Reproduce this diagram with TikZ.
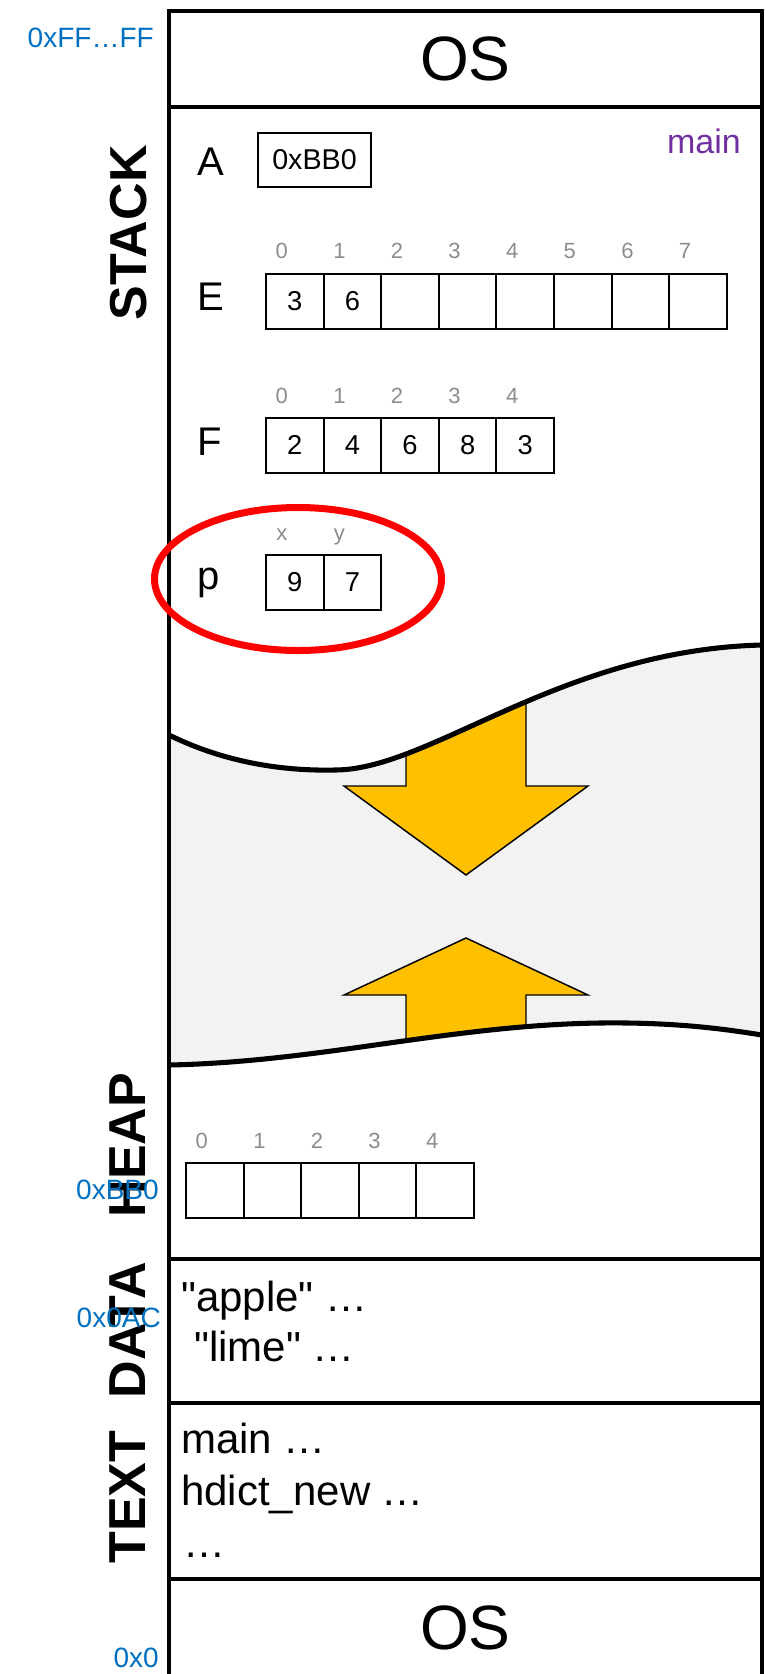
\documentclass[tikz,border=0pt]{standalone}
\usepackage{fontspec}
\setmainfont{Liberation Sans}[Ligatures=TeXOff]
\usetikzlibrary{positioning}
\definecolor{addrblue}{HTML}{0070C0}
\definecolor{framepurple}{HTML}{7030A0}
\definecolor{growyellow}{HTML}{FFC000}
\definecolor{gapgray}{HTML}{F2F2F2}
\definecolor{indexgray}{HTML}{8C8C8C}
\newcommand{\pxfont}[1]{\fontsize{#1}{#1}\selectfont}
\newcommand{\stackwave}{(169,735) .. controls (230,765) and (290,771) .. (335,770)
  .. controls (430,770) and (560,650) .. (762,645)}
\newcommand{\heapwave}{(762,1035) .. controls (730,1030) and (680,1022) .. (600,1023)
  .. controls (450,1025) and (320,1062) .. (169,1065)}
\tikzset{
  mem line/.style={line width=3.5pt},
  seg name/.style={font=\bfseries\pxfont{39},rotate=90,inner sep=0pt},
  os label/.style={font=\pxfont{47},inner sep=0pt},
  addr label/.style={font=\pxfont{21},text=addrblue,anchor=east,inner sep=0pt},
  var label/.style={font=\pxfont{30},anchor=base west,inner sep=0pt},
  cell box/.style={draw,line width=1.5pt,minimum width=43.2pt,
    minimum height=41.25pt,inner sep=0pt,font=\pxfont{20.5}},
  index label/.style={font=\pxfont{16.5},text=indexgray,anchor=base,inner sep=0pt},
  code line/.style={font=\pxfont{31.5},anchor=base west,inner sep=0pt},
  grow arrow/.style={fill=growyellow,draw=black,line width=1.1pt},
}

\begin{document}
\begin{tikzpicture}[x=0.75pt,y=-0.75pt]
  \useasboundingbox (0,0) rectangle (764,1674);

  % Free space between the stack and the heap, both growing into it.
  \fill[gapgray] \stackwave -- \heapwave -- cycle;
  \begin{scope}
    \clip \stackwave -- \heapwave -- cycle;
    \draw[grow arrow] (406,600) -- (406,786) -- (344,786) -- (466,875)
      -- (588,786) -- (526,786) -- (526,600) -- cycle;
    \draw[grow arrow] (406,1100) -- (406,995) -- (344,995) -- (466,938)
      -- (588,995) -- (526,995) -- (526,1100) -- cycle;
  \end{scope}
  \draw[mem line,line width=3.8pt] \stackwave;
  \draw[mem line,line width=3.8pt] \heapwave;

  % Memory column and segment borders.
  \draw[mem line] (169,11) rectangle (762,1700);
  \draw[mem line] (169,107) -- (762,107);
  \draw[mem line] (169,1259) -- (762,1259);
  \draw[mem line] (169,1403) -- (762,1403);
  \draw[mem line] (169,1579) -- (762,1579);

  \node[os label] (ostop) at (465.5,59) {OS};
  \node[os label] (osbottom) at (465.5,1628) {OS};

  \node[seg name] (stack) at (129,233) {STACK};
  \node[seg name] (heap) at (128,1145) {HEAP};
  \node[seg name] (data) at (128,1330) {DATA};
  \node[seg name] (text) at (128,1497) {TEXT};

  \node[addr label] (addrtop) at (154,38) {0xFF…FF};
  \node[addr label] (addrheap) at (159,1190) {0xBB0};
  \node[addr label] (addrdata) at (161,1318) {0x0AC};
  \node[addr label] (addrzero) at (159,1658) {0x0};

  % Frame of main on the stack.
  \node[font=\pxfont{25.5},text=framepurple,anchor=base east,inner sep=0pt]
    (frame) at (741,153) {main};
  \node[var label] (avar) at (197,175) {A};
  \node[draw,line width=1.5pt,minimum width=84.75pt,minimum height=40.5pt,
    inner sep=0pt,font=\pxfont{21.5}] (aval) at (314.5,160) {0xBB0};

  \node[var label] (evar) at (197,310) {E};
  \foreach \v [count=\i from 0] in {3,6,{},{},{},{},{},{}} {
    \node[cell box] (e\i) at (266+57.6*\i+28.8,301) {\v};
    \node[index label] (eidx\i) at (266+57.6*\i+15.8,258) {\i};
  }

  \node[var label] (fvar) at (197,455) {F};
  \foreach \v [count=\i from 0] in {2,4,6,8,3} {
    \node[cell box] (f\i) at (266+57.6*\i+28.8,445) {\v};
    \node[index label] (fidx\i) at (266+57.6*\i+15.8,403) {\i};
  }

  \node[var label] (pvar) at (197,589) {p};
  \foreach \v/\n [count=\i from 0] in {9/x,7/y} {
    \node[cell box] (p\i) at (266+57.6*\i+28.8,582) {\v};
    \node[index label] (pidx\i) at (266+57.6*\i+15.8,540) {\n};
  }

  % Heap block that A points to.
  \foreach \i in {0,...,4} {
    \node[cell box] (h\i) at (186+57.6*\i+28.8,1190) {};
    \node[index label] (hidx\i) at (186+57.6*\i+15.8,1148) {\i};
  }

  \node[code line] (apple) at (181,1311) {"apple" …};
  \node[code line] (lime) at (194,1361) {"lime" …};
  \node[code line] (mainfn) at (181,1453) {main …};
  \node[code line] (hdict) at (181,1505) {hdict\_new …};
  \node[code line] (more) at (183,1557) {…};

  \draw[red,line width=5.25pt] (298,579) ellipse [x radius=143.5,y radius=71.5];
\end{tikzpicture}
\end{document}
